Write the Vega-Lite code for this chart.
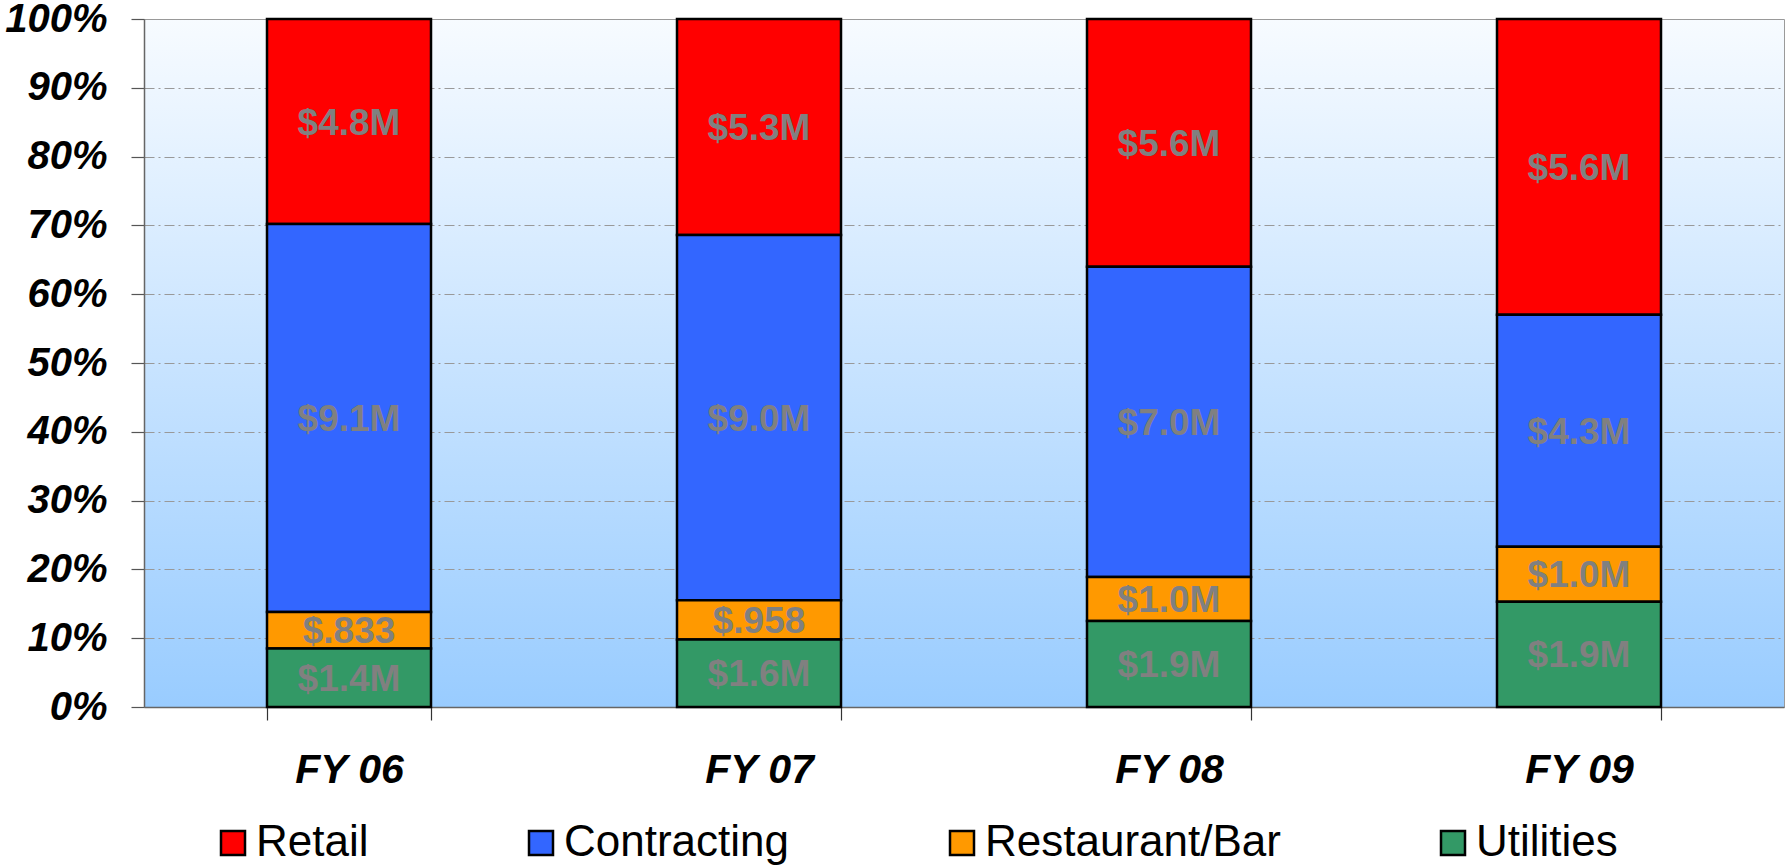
{
  "$schema": "https://vega.github.io/schema/vega-lite/v6.json",
  "width": 1640,
  "height": 688,
  "autosize": "none",
  "padding": {"left": 144, "top": 19, "right": 3, "bottom": 160},
  "background": "white",
  "view": {
    "fill": {"gradient": "linear", "x1": 0, "y1": 0, "x2": 0, "y2": 1,
      "stops": [{"offset": 0, "color": "#F7FBFF"}, {"offset": 1, "color": "#99CCFF"}]},
    "stroke": "#9a9a9a",
    "strokeWidth": 1
  },
  "data": {
    "values": [
      {"year": "FY 06", "category": "Retail", "pct": 29.8, "label": "$4.8M", "ord": 4},
      {"year": "FY 06", "category": "Contracting", "pct": 56.4, "label": "$9.1M", "ord": 3},
      {"year": "FY 06", "category": "Restaurant/Bar", "pct": 5.3, "label": "$.833", "ord": 2},
      {"year": "FY 06", "category": "Utilities", "pct": 8.5, "label": "$1.4M", "ord": 1},
      {"year": "FY 07", "category": "Retail", "pct": 31.4, "label": "$5.3M", "ord": 4},
      {"year": "FY 07", "category": "Contracting", "pct": 53.1, "label": "$9.0M", "ord": 3},
      {"year": "FY 07", "category": "Restaurant/Bar", "pct": 5.7, "label": "$.958", "ord": 2},
      {"year": "FY 07", "category": "Utilities", "pct": 9.8, "label": "$1.6M", "ord": 1},
      {"year": "FY 08", "category": "Retail", "pct": 36.0, "label": "$5.6M", "ord": 4},
      {"year": "FY 08", "category": "Contracting", "pct": 45.1, "label": "$7.0M", "ord": 3},
      {"year": "FY 08", "category": "Restaurant/Bar", "pct": 6.4, "label": "$1.0M", "ord": 2},
      {"year": "FY 08", "category": "Utilities", "pct": 12.5, "label": "$1.9M", "ord": 1},
      {"year": "FY 09", "category": "Retail", "pct": 43.0, "label": "$5.6M", "ord": 4},
      {"year": "FY 09", "category": "Contracting", "pct": 33.7, "label": "$4.3M", "ord": 3},
      {"year": "FY 09", "category": "Restaurant/Bar", "pct": 8.0, "label": "$1.0M", "ord": 2},
      {"year": "FY 09", "category": "Utilities", "pct": 15.3, "label": "$1.9M", "ord": 1}
    ]
  },
  "encoding": {
    "x": {
      "field": "year", "type": "nominal", "title": null,
      "scale": {"paddingInner": 0.6, "paddingOuter": 0.3},
      "axis": {
        "labelAngle": 0, "tickBand": "extent", "tickSize": 13, "labelPadding": 30,
        "labelFont": "Liberation Sans", "labelFontSize": 41, "labelFontWeight": "bold",
        "labelFontStyle": "italic", "labelColor": "black",
        "domainColor": "#666666", "domainWidth": 1.5, "tickColor": "#333333", "tickWidth": 1.2,
        "grid": false
      }
    },
    "y": {
      "field": "pct", "type": "quantitative", "stack": "normalize", "title": null,
      "scale": {"domain": [0, 1], "nice": false},
      "axis": {
        "values": [0, 0.1, 0.2, 0.3, 0.4, 0.5, 0.6, 0.7, 0.8, 0.9, 1],
        "format": ".0%", "labelFlush": false, "labelOverlap": false,
        "tickSize": 13, "labelPadding": 24,
        "labelFont": "Liberation Sans", "labelFontSize": 40, "labelFontWeight": "bold",
        "labelFontStyle": "italic", "labelColor": "black",
        "domainColor": "#666666", "domainWidth": 1.5, "tickColor": "#555555", "tickWidth": 1.2,
        "grid": true, "gridColor": "#999999", "gridDash": [10, 4, 2, 4], "gridWidth": 1
      }
    },
    "order": {"field": "ord", "type": "quantitative"}
  },
  "layer": [
    {
      "mark": {"type": "bar", "stroke": "black", "strokeWidth": 2.5},
      "encoding": {
        "color": {
          "field": "category", "type": "nominal",
          "scale": {
            "domain": ["Retail", "Contracting", "Restaurant/Bar", "Utilities"],
            "range": ["#FF0000", "#3366FF", "#FF9900", "#339966"]
          },
          "legend": {
            "title": null, "orient": "none", "direction": "horizontal",
            "legendX": 67, "legendY": 802,
            "symbolType": "square", "symbolSize": 576,
            "symbolStrokeColor": "black", "symbolStrokeWidth": 2.5, "symbolOpacity": 1,
            "labelFont": "Liberation Sans", "labelFontSize": 44, "labelColor": "black",
            "labelOffset": 1, "columnPadding": 150, "labelLimit": 600, "padding": 0
          }
        }
      }
    },
    {
      "mark": {"type": "text", "font": "Liberation Sans", "fontSize": 37, "fontWeight": "bold", "color": "#808080", "baseline": "middle", "dy": 2},
      "encoding": {
        "detail": {"field": "category"},
        "text": {"field": "label"},
        "y": {"field": "pct", "type": "quantitative", "stack": "normalize", "bandPosition": 0.5}
      }
    }
  ]
}
